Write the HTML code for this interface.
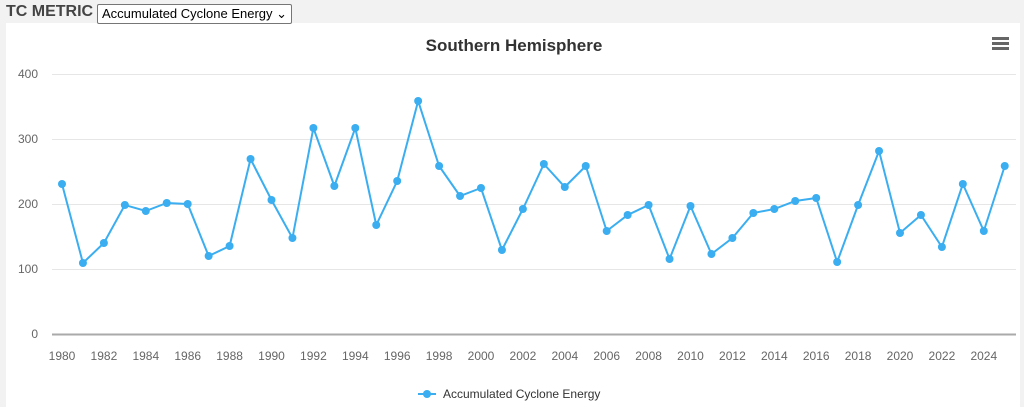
<!DOCTYPE html>
<html><head><style>
body{margin:0;width:1024px;height:407px;background:#f2f2f2;font-family:"Liberation Sans",sans-serif;overflow:hidden;position:relative}
.hdr{position:absolute;left:6px;top:3px;font-weight:bold;font-size:16px;color:#444}
.sel{position:absolute;left:97px;top:4px;border:1px solid #767676;background:#fff;font-size:13px;padding:1px 4px;color:#000;height:16px;line-height:16px;border-radius:2px}
svg{position:absolute;left:0;top:0}
</style></head><body>
<svg width="1024" height="407">
<rect x="6" y="23" width="1014" height="384" fill="#fff"/>
<text x="514" y="51" text-anchor="middle" font-size="17" font-weight="bold" fill="#333" font-family="Liberation Sans">Southern Hemisphere</text>
<g fill="#666"><rect x="992" y="37" width="17" height="3"/><rect x="992" y="42" width="17" height="3"/><rect x="992" y="47" width="17" height="3"/></g>
<g stroke="#e6e6e6" stroke-width="1">
<line x1="52" y1="74.5" x2="1016" y2="74.5"/><line x1="52" y1="139.5" x2="1016" y2="139.5"/><line x1="52" y1="204.5" x2="1016" y2="204.5"/><line x1="52" y1="269.5" x2="1016" y2="269.5"/></g>
<line x1="52" y1="334.5" x2="1016" y2="334.5" stroke="#aaa" stroke-width="2"/>
<g font-size="12" fill="#666" text-anchor="end" font-family="Liberation Sans">
<text x="38" y="78">400</text><text x="38" y="143">300</text><text x="38" y="208">200</text><text x="38" y="273">100</text><text x="38" y="338">0</text></g>
<g font-size="12" fill="#666" text-anchor="middle" font-family="Liberation Sans" id="xl"></g>
<polyline id="ln" fill="none" stroke="#3aaef0" stroke-width="2"/>
<g id="pts" fill="#3aaef0"></g>
<line x1="418" y1="394" x2="436" y2="394" stroke="#3aaef0" stroke-width="2"/><circle cx="427" cy="394" r="4" fill="#3aaef0"/>
<text x="443" y="398" font-size="12" fill="#333" font-family="Liberation Sans">Accumulated Cyclone Energy</text>
</svg>
<div class="hdr">TC METRIC</div>
<div class="sel">Accumulated Cyclone Energy &#8964;</div>
<script>
var ys=[184,263,243,205,211,203,204,256,246,159,200,238,128,186,128,225,181,101,166,196,188,250,209,164,187,166,231,215,205,259,206,254,238,213,209,201,198,262,205,151,233,215,247,184,231,166];
var ns="http://www.w3.org/2000/svg",p=[],g=document.getElementById('pts'),xl=document.getElementById('xl');
ys.forEach(function(y,i){var x=62+i*20.95;p.push(x+','+y);var c=document.createElementNS(ns,'circle');c.setAttribute('cx',x);c.setAttribute('cy',y);c.setAttribute('r',4);g.appendChild(c);
if(i%2==0){var t=document.createElementNS(ns,'text');t.setAttribute('x',x);t.setAttribute('y',360);t.textContent=1980+i;xl.appendChild(t);}});
document.getElementById('ln').setAttribute('points',p.join(' '));
</script>
</body></html>
